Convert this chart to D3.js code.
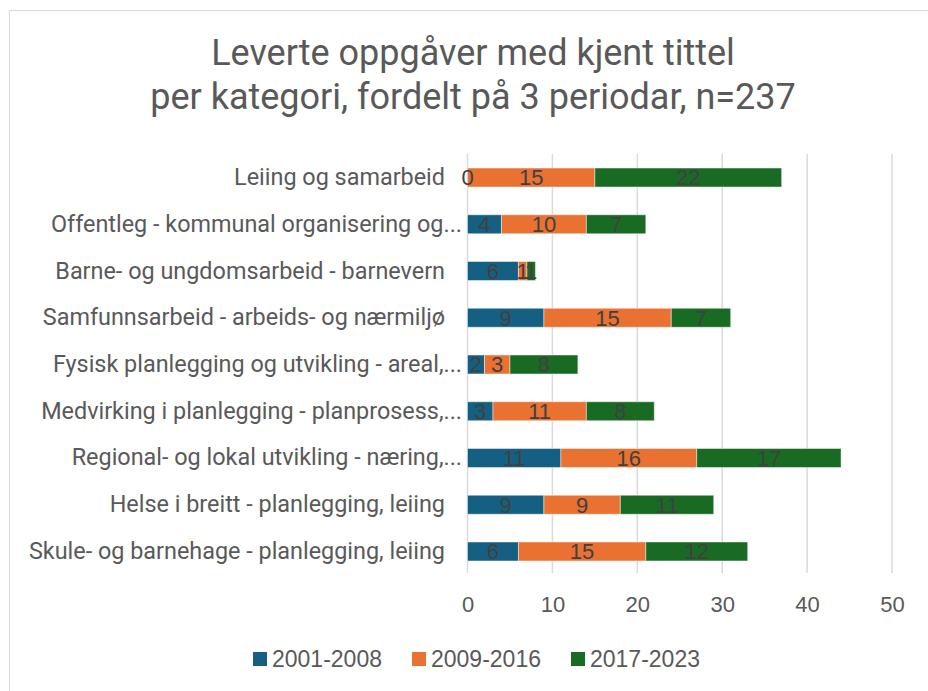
<!DOCTYPE html>
<html>
<head>
<meta charset="utf-8">
<script src="https://cdn.jsdelivr.net/npm/d3@7"></script>
<style>
  body { margin: 0; background: #fff; }
  svg { display: block; }
</style>
</head>
<body>
<div id="chart"></div>
<script>
// categories, top to bottom
var categories = [
  "Leiing og samarbeid",
  "Offentleg - kommunal organisering og...",
  "Barne- og ungdomsarbeid - barnevern",
  "Samfunnsarbeid - arbeids- og nærmiljø",
  "Fysisk planlegging og utvikling - areal,...",
  "Medvirking i planlegging - planprosess,...",
  "Regional- og lokal utvikling - næring,...",
  "Helse i breitt - planlegging, leiing",
  "Skule- og barnehage - planlegging, leiing"
];
var periods = ["2001-2008", "2009-2016", "2017-2023"];
var p2001 = [0, 4, 6, 9, 2, 3, 11, 9, 6];
var p2009 = [15, 10, 1, 15, 3, 11, 16, 9, 15];
var p2017 = [22, 7, 1, 7, 8, 8, 17, 11, 12];
var xTicks = [0, 10, 20, 30, 40, 50];
var colors = ["#156082", "#E97132", "#196B24"];

var width = 928, height = 691;
var margin = {top: 154, right: 36, bottom: 116, left: 467.5};

var svg = d3.select("#chart")
  .append("svg")
    .attr("width", width)
    .attr("height", height);

// chart frame (only top/left edges visible in the crop)
svg.append("rect")
  .attr("x", 9.5).attr("y", 10.5)
  .attr("width", width + 20).attr("height", height + 20)
  .attr("fill", "none")
  .attr("stroke", "#d9d9d9");

// title
svg.append("text")
  .attr("x", 473).attr("y", 65)
  .attr("text-anchor", "middle")
  .attr("font-family", "Roboto, sans-serif")
  .attr("font-size", 36)
  .attr("fill", "#595959")
  .selectAll("tspan")
  .data(["Leverte oppgåver med kjent tittel", "per kategori, fordelt på 3 periodar, n=237"])
  .join("tspan")
    .attr("x", 473)
    .attr("dy", function(d, i) { return i ? 44 : 0; })
    .text(function(d) { return d; });

var g = svg.append("g");

var x = d3.scaleLinear()
  .domain([0, 50])
  .range([margin.left, width - margin.right]);

var y = d3.scaleBand()
  .domain(categories)
  .range([margin.top, height - margin.bottom])
  .paddingInner(0.594)
  .paddingOuter(0.3);

// gridlines
g.append("g")
  .selectAll("line")
  .data(xTicks)
  .join("line")
    .attr("x1", function(d) { return x(d); })
    .attr("x2", function(d) { return x(d); })
    .attr("y1", margin.top)
    .attr("y2", 573)
    .attr("stroke", "#d9d9d9")
    .attr("stroke-width", 1.5);

// x axis labels
var xAxis = g.append("g")
  .attr("transform", "translate(0,604)")
  .call(d3.axisBottom(x).tickValues(xTicks).tickSize(0).tickPadding(0));
xAxis.select(".domain").remove();
xAxis.selectAll("text")
  .attr("dy", "0.35em")
  .attr("font-family", "'Liberation Sans', Arial, sans-serif")
  .attr("font-size", 22)
  .attr("fill", "#595959");

// y axis labels (truncated ones run closer to the axis, like Excel does)
var yAxis = g.append("g")
  .attr("transform", "translate(445,0)")
  .call(d3.axisLeft(y).tickSize(0).tickPadding(0));
yAxis.select(".domain").remove();
yAxis.selectAll("text")
  .attr("x", function(d) { return /\.\.\.$/.test(d) ? 17 : 0; })
  .attr("font-family", "Roboto, sans-serif")
  .attr("font-size", 23.4)
  .attr("fill", "#595959");

// stack
var rows = categories.map(function(c, i) {
  return {cat: c, "2001-2008": p2001[i], "2009-2016": p2009[i], "2017-2023": p2017[i]};
});
var series = d3.stack().keys(periods)(rows);

var layer = g.append("g")
  .selectAll("g")
  .data(series)
  .join("g")
    .attr("fill", function(d, i) { return colors[i]; });

layer.selectAll("rect")
  .data(function(d) { return d; })
  .join("rect")
    .attr("x", function(d) { return x(d[0]); })
    .attr("y", function(d) { return y(d.data.cat); })
    .attr("width", function(d) { return x(d[1]) - x(d[0]); })
    .attr("height", y.bandwidth())
    .attr("stroke", "#ffffff")
    .attr("stroke-opacity", 0.45)
    .attr("stroke-width", 1);

// data labels, drawn above all bars
g.append("g")
  .selectAll("g")
  .data(series)
  .join("g")
  .selectAll("text")
  .data(function(d) { return d; })
  .join("text")
    .attr("x", function(d) { return (x(d[0]) + x(d[1])) / 2; })
    .attr("y", function(d) { return y(d.data.cat) + y.bandwidth() / 2; })
    .attr("dy", "0.36em")
    .attr("text-anchor", "middle")
    .attr("font-family", "'Liberation Sans', Arial, sans-serif")
    .attr("font-size", 22)
    .attr("fill", "#404040")
    .text(function(d) { return d[1] - d[0]; });

// legend
var legend = svg.append("g")
  .selectAll("g")
  .data(periods)
  .join("g")
    .attr("transform", function(d, i) { return "translate(" + (253 + i * 159) + ",652)"; });
legend.append("rect")
  .attr("width", 14).attr("height", 14)
  .attr("fill", function(d, i) { return colors[i]; });
legend.append("text")
  .attr("x", 19).attr("y", 7)
  .attr("dy", "0.36em")
  .attr("font-family", "'Liberation Sans', Arial, sans-serif")
  .attr("font-size", 23)
  .attr("fill", "#595959")
  .text(function(d) { return d; });
</script>
</body>
</html>
